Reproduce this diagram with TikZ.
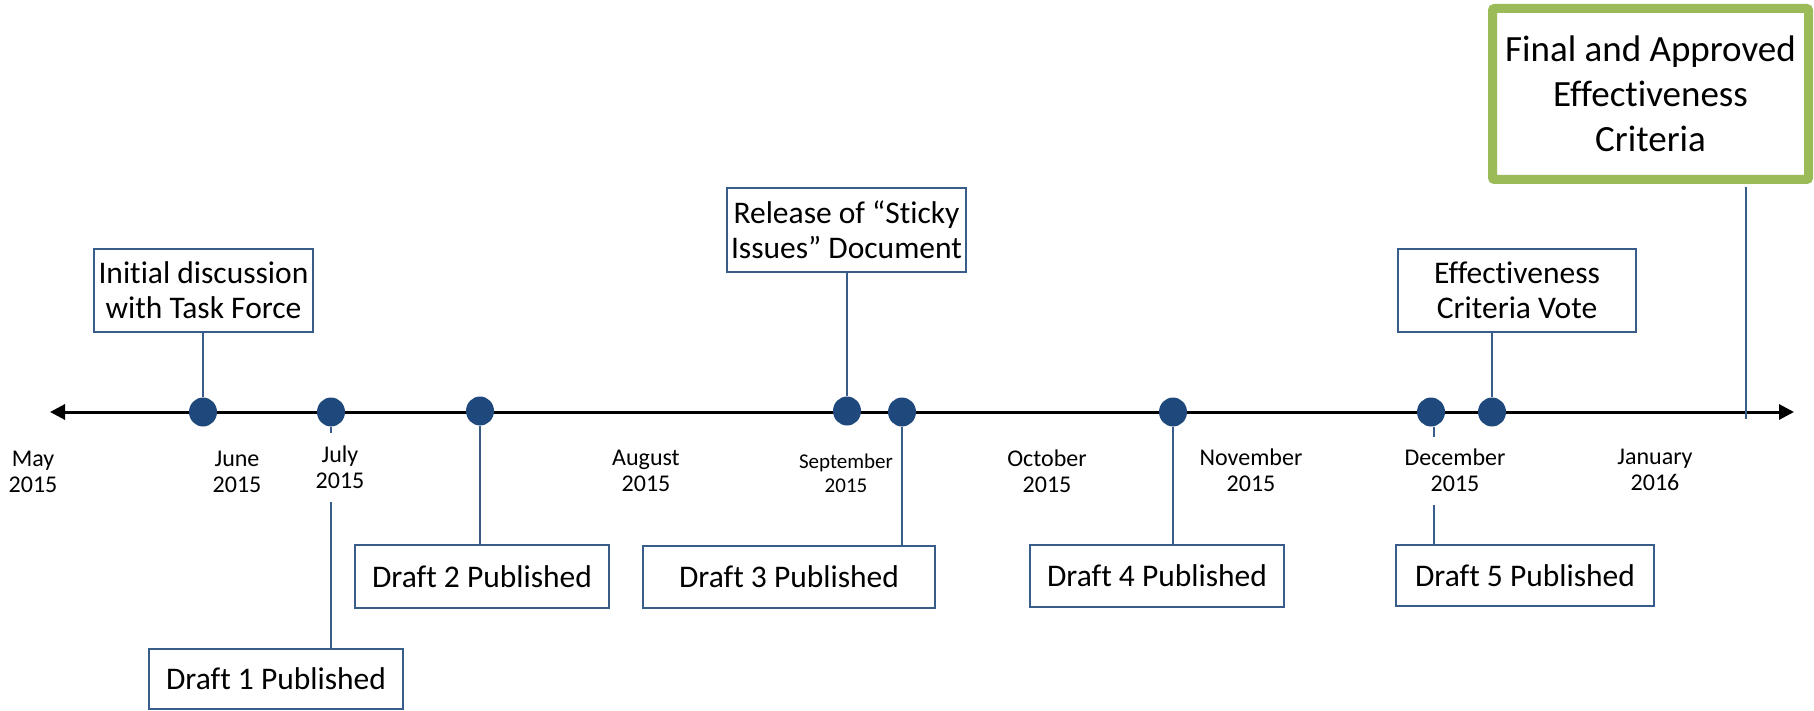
\documentclass[tikz,border=0pt]{standalone}
\usepackage{fontspec}
\setmainfont[Ligatures=NoCommon]{Carlito}
\usetikzlibrary{arrows.meta}
\definecolor{boxblue}{HTML}{385D8A}
\definecolor{dotblue}{HTML}{1F497D}
\definecolor{finalgreen}{HTML}{9BBB59}
\tikzset{
  evbox/.style={draw=boxblue, line width=2pt, fill=white, inner sep=0pt, align=center,
    font=\fontsize{31.5}{35}\selectfont},
  finalbox/.style={draw=finalgreen, line width=9pt, fill=white, inner sep=0pt, align=center,
    rounded corners=2pt, font=\fontsize{37}{45}\selectfont},
  evdot/.style={ellipse, fill=dotblue, minimum width=28pt, minimum height=29pt, inner sep=0pt},
  conn/.style={draw=boxblue, line width=2pt},
  month/.style={align=center, inner sep=0pt, font=\fontsize{24}{26}\selectfont},
  smallmonth/.style={align=center, inner sep=0pt, font=\fontsize{21}{24}\selectfont},
  axisline/.style={line width=3pt, {Triangle[length=15pt,width=15pt]}-{Triangle[length=15pt,width=15pt]}}
}
\usetikzlibrary{shapes.geometric}
\begin{document}
\begin{tikzpicture}[x=1pt, y=-1pt]
\useasboundingbox (0,0) rectangle (1814,711);
% axis
\coordinate (axl) at (50,412);
\coordinate (axr) at (1794,412);
\draw[axisline] (axl) -- (axr);
% dots
\node[evdot] (p1) at (203,412) {};
\node[evdot] (p2) at (331,412) {};
\node[evdot] (p3) at (480,411) {};
\node[evdot] (p4) at (847,411) {};
\node[evdot] (p5) at (902,412) {};
\node[evdot] (p6) at (1173,412) {};
\node[evdot] (p7) at (1431,412) {};
\node[evdot] (p8) at (1492,412) {};
% boxes
\node[evbox, minimum width=219pt, minimum height=83pt] (init) at (203.5,290.5) {Initial discussion\\with Task Force};
\node[evbox, minimum width=254pt, minimum height=60pt] (d1) at (276,679) {Draft 1 Published};
\node[evbox, minimum width=254pt, minimum height=63pt] (d2) at (482,576.5) {Draft 2 Published};
\node[evbox, minimum width=239pt, minimum height=84pt] (sticky) at (846.5,230) {Release of “Sticky\\Issues” Document};
\node[evbox, minimum width=292pt, minimum height=62pt] (d3) at (789,577) {Draft 3 Published};
\node[evbox, minimum width=254pt, minimum height=62pt] (d4) at (1157,576) {Draft 4 Published};
\node[evbox, minimum width=238pt, minimum height=83pt] (vote) at (1517,290.5) {Effectiveness\\Criteria Vote};
\node[evbox, minimum width=258pt, minimum height=61pt] (d5) at (1525,575.5) {Draft 5 Published};
\node[finalbox, minimum width=316pt, minimum height=171pt] (final) at (1650.5,94) {Final and Approved\\Effectiveness\\Criteria};
% connectors
\draw[conn] (init.south -| p1) -- (p1.north);
\coordinate (jt) at (331,433);
\coordinate (jb) at (331,502);
\draw[conn] (p2.south) -- (jt);
\draw[conn] (jb) -- (d1.north -| jb);
\draw[conn] (p3.south) -- (d2.north -| p3);
\draw[conn] (sticky.south -| p4) -- (p4.north);
\draw[conn] (p5.south) -- (d3.north -| p5);
\draw[conn] (p6.south) -- (d4.north -| p6);
\draw[conn] (vote.south -| p8) -- (p8.north);
\coordinate (dt) at (1434,437);
\coordinate (db) at (1434,505);
\draw[conn] (p7.south -| dt) -- (dt);
\draw[conn] (db) -- (d5.north -| db);
\coordinate (ft) at (1746,187);
\coordinate (fb) at (1746,419);
\draw[conn] (ft) -- (fb);
% month labels
\node[month] (mmay) at (33,472) {May\\2015};
\node[month] (mjun) at (237,472) {June\\2015};
\node[month] (mjul) at (340,467) {July\\2015};
\node[month] (maug) at (646,471) {August\\2015};
\node[smallmonth] (msep) at (846,473) {September\\2015};
\node[month] (moct) at (1047,471) {October\\2015};
\node[month] (mnov) at (1251,470) {November\\2015};
\node[month] (mdec) at (1455,470) {December\\2015};
\node[month] (mjan) at (1655,470) {January\\2016};
\end{tikzpicture}
\end{document}
